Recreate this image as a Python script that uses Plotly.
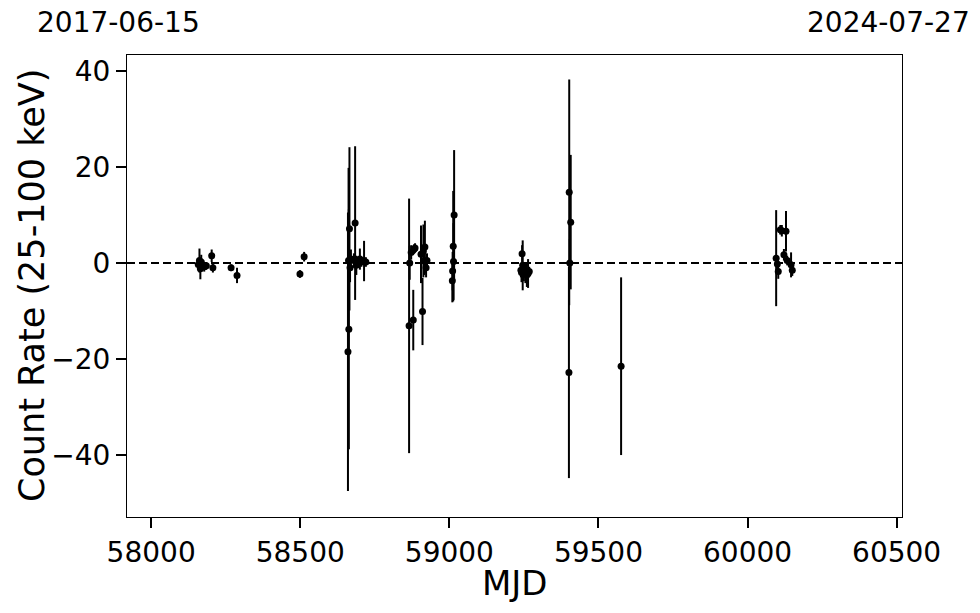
import plotly.graph_objects as go

mjd = [58158, 58162, 58165, 58168, 58172, 58178, 58185, 58203, 58207, 58268, 58288,
       58499, 58513,
       58660, 58662, 58663, 58665, 58667, 58670, 58680, 58684, 58688, 58692, 58700, 58705, 58714, 58720,
       58865, 58867, 58872, 58879, 58882, 58885, 58905, 58910, 58913, 58916, 58918, 58922, 58925,
       59010, 59011, 59013, 59014, 59016,
       59240, 59242, 59244, 59246, 59250, 59255, 59260, 59264, 59268,
       59401, 59402, 59404, 59407,
       59576,
       60096, 60100, 60103, 60110, 60115, 60122, 60129, 60133, 60146, 60150]
rate = [-0.3, 0.5, -1.2, 0.2, -0.4, -0.8, -0.6, 1.5, -1.0, -1.0, -2.6,
        -2.3, 1.3,
        -18.5, 0.5, -13.8, 7.1, -1.0, 0.8, 0.5, 8.3, -0.5, 0.3, 0.8, 0.2, 0.4, 0.2,
        -13.1, 0.0, 2.2, -11.9, 2.9, 3.1, 1.8, -10.1, 2.5, 0.5, 3.3, -1.0, 0.5,
        -3.7, -1.7, 3.5, 0.3, 10.0,
        -1.5, -2.0, 1.9, -0.5, -1.8, -2.2, -2.5, -2.2, -1.8,
        -22.8, 14.7, 0.0, 8.5,
        -21.5,
        1.0, -0.2, -1.8, 6.9, 6.7, 1.7, 6.6, 0.5, -0.4, -1.5]
rate_err = [0.8, 2.5, 2.2, 1.5, 1.0, 1.0, 0.8, 1.3, 1.0, 0.7, 1.6,
            0.8, 1.0,
            29.0, 19.3, 25.0, 17.0, 3.0, 2.0, 1.5, 16.0, 2.0, 1.0, 2.2, 1.0, 4.2, 1.0,
            26.5, 3.5, 1.5, 6.3, 1.0, 1.0, 6.0, 7.0, 5.5, 3.0, 5.5, 2.0, 1.5,
            4.5, 4.0, 11.5, 8.0, 13.5,
            1.5, 2.0, 1.8, 5.2, 2.0, 2.0, 2.5, 3.0, 1.0,
            22.0, 23.5, 5.0, 14.0,
            18.5,
            10.0, 1.5, 1.5, 1.0, 1.2, 1.2, 4.2, 1.0, 2.6, 1.2]

x_range = [57919, 60518]
y_range = [-52.9, 43.3]
top_labels = ["2017-06-15", "2024-07-27"]

font = "DejaVu Sans"

fig = go.Figure()
fig.add_trace(go.Scatter(
    x=mjd, y=rate, mode="markers",
    marker=dict(color="black", size=7),
    error_y=dict(type="data", array=rate_err, visible=True,
                 color="black", thickness=2, width=0),
    showlegend=False,
))

fig.add_shape(type="line", xref="paper", yref="y", x0=0, x1=1, y0=0, y1=0,
              line=dict(color="black", width=2, dash="8px,4px"))

fig.update_layout(
    width=980, height=613,
    margin=dict(l=127, r=78, t=55, b=96),
    paper_bgcolor="white", plot_bgcolor="white",
    font=dict(family=font, size=28, color="black"),
    xaxis=dict(range=x_range, dtick=500, tick0=58000, showgrid=False, zeroline=False,
               showline=True, linecolor="black", linewidth=1, mirror=True,
               ticks="outside", ticklen=10, tickwidth=2, tickcolor="black",
               tickfont=dict(size=28), tickformat="d", automargin=False),
    yaxis=dict(range=y_range, dtick=20, tick0=0, showgrid=False, zeroline=False,
               showline=True, linecolor="black", linewidth=1, mirror=True,
               ticks="outside", ticklen=10, tickwidth=2, tickcolor="black",
               tickfont=dict(size=28), automargin=False),
    annotations=[
        dict(text=top_labels[0], xref="paper", yref="paper", x=-0.0116, y=1.07,
             xanchor="center", yanchor="middle", showarrow=False, font=dict(size=28)),
        dict(text=top_labels[1], xref="paper", yref="paper", x=0.983, y=1.07,
             xanchor="center", yanchor="middle", showarrow=False, font=dict(size=28)),
        dict(text="MJD", xref="paper", yref="paper", x=0.5, y=(613 - 583 - 96) / 462.0,
             xanchor="center", yanchor="middle", showarrow=False, font=dict(size=34)),
        dict(text="Count Rate (25-100 keV)", xref="paper", yref="paper",
             x=(32 - 127) / 775.0, y=0.5, textangle=-90,
             xanchor="center", yanchor="middle", showarrow=False, font=dict(size=35)),
    ],
)

fig.write_html("out.html", config={"displayModeBar": False},
               post_script="document.body.style.margin='0';")
